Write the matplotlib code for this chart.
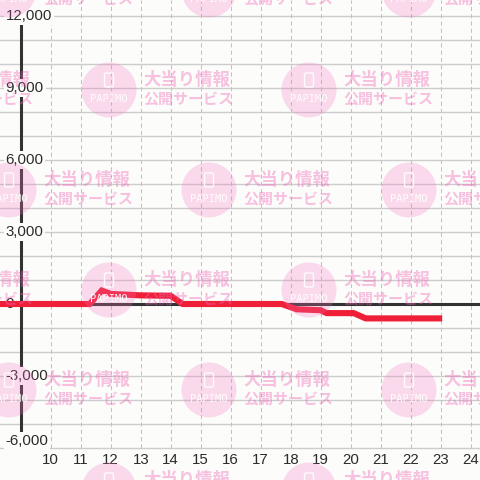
import matplotlib
matplotlib.use("Agg")
import matplotlib.pyplot as plt
from matplotlib.patches import Circle, FancyBboxPatch

# ---- data ----
time_h = [8.3, 11.3, 11.7, 12.0, 13.0, 14.0, 14.4, 17.7, 18.2, 19.0, 19.2, 20.1, 20.5, 23.05]
diff_balls = [0, 0, 560, 420, 360, 340, 0, 0, -220, -260, -380, -380, -600, -600]
x_ticks = list(range(10, 25))
y_grid = list(range(-6000, 12001, 1000))
y_labels = [12000, 9000, 6000, 3000, 0, -3000, -6000]

BG = "#fcfcfa"
TXT = "#2b2b2b"

fig = plt.figure(figsize=(4.8, 4.8), dpi=100, facecolor=BG)
ax = fig.add_axes([0, 0, 1, 1])
ax.set_facecolor(BG)
ax.set_xlim(8.31, 24.31)
ax.set_ylim(-7333.3, 12666.7)
ax.axis("off")

# grid
for v in y_grid:
    ax.axhline(v, color="#cdcdcd", lw=1.0, zorder=1)
ax.vlines(x_ticks, -6000, 12666.7, colors="#c2c2c2", lw=0.75,
          linestyles=(0, (4, 3)), zorder=1)

# zero line and y axis
ax.axhline(0, color="#333333", lw=2.2, zorder=2)
ax.plot([9, 9], [-6000, 12000], color="#333333", lw=2.2, zorder=2,
        solid_capstyle="butt")

# series
ax.plot(time_h, diff_balls, color="#ee1f36", lw=4.4, zorder=4,
        solid_capstyle="butt", solid_joinstyle="miter")

# y labels
for v in y_labels:
    yy = v if v != -6000 else -5700
    ax.text(8.5, yy, f"{v:,}", ha="left", va="center", fontsize=10.8,
            family="Liberation Sans", color=TXT, zorder=3,
            bbox=dict(boxstyle="square,pad=0.12", fc=BG, ec="none"))

# x labels
for t in x_ticks:
    ax.text(t, -6520, str(t), ha="center", va="center", fontsize=10.8,
            family="Liberation Sans", color=TXT, zorder=3)

# ---- watermark overlay (pixel coordinates) ----
wax = fig.add_axes([0, 0, 1, 1], zorder=5)
wax.set_xlim(0, 480)
wax.set_ylim(480, 0)
wax.axis("off")
wax.patch.set_alpha(0)

pink_c = (0.95, 0.45, 0.75, 0.25)
pink_t = (0.94, 0.40, 0.72, 0.40)
rows = [(-10, [9, 209, 409]), (90, [-91, 109, 309]), (190, [9, 209, 409]),
        (290, [-91, 109, 309]), (390, [9, 209, 409]), (490, [109, 309])]
for cy, cxs in rows:
    for cx in cxs:
        wax.add_patch(Circle((cx, cy), 27.5, fc=pink_c, ec="none"))
        wax.add_patch(FancyBboxPatch((cx - 4.5, cy - 17), 9, 14,
                                     boxstyle="round,pad=0,rounding_size=1.5",
                                     fc="none", ec=(1, 1, 1, 0.9), lw=1.0))
        wax.text(cx, cy + 9, "PAPIMO", ha="center", va="center", fontsize=7.5,
                 color=(1, 1, 1, 0.92), family="DejaVu Sans Mono")
        wax.text(cx + 34, cy - 10, "大当り情報", ha="left", va="center",
                 fontsize=12.5, fontweight="bold", color=pink_t,
                 family=["Noto Sans CJK JP", "DejaVu Sans"])
        wax.text(cx + 34, cy + 9, "公開サービス", ha="left", va="center",
                 fontsize=10.8, fontweight="bold", color=pink_t,
                 family=["Noto Sans CJK JP", "DejaVu Sans"])

fig.savefig("out.png", dpi=100, facecolor=BG)
